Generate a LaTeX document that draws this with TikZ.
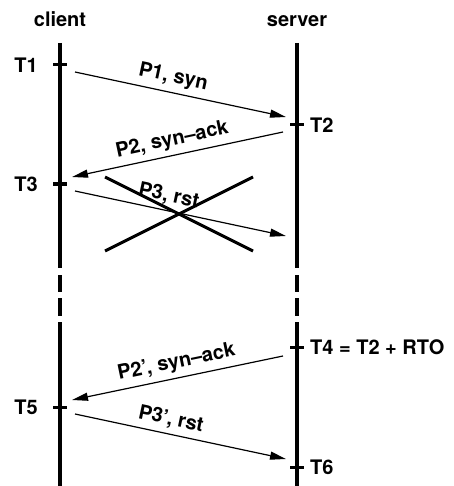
\documentclass[tikz,border=0pt]{standalone}
\usepackage{fontspec}
\setmainfont{TeX Gyre Heros}
\usetikzlibrary{arrows.meta}

\tikzset{
  timeline/.style={line width=4pt},
  timetick/.style={line width=3pt},
  msg/.style={line width=1.2pt, -{Triangle[length=16pt,width=8pt]}},
  msglbl/.style={sloped, above=2pt, inner sep=3pt},
  endlbl/.style={inner sep=0pt},
  cross/.style={line width=3pt}
}

\begin{document}
\begin{tikzpicture}[x=1pt, y=-1pt, font=\fontsize{20}{24}\selectfont\bfseries]
  \useasboundingbox (0,0) rectangle (453,486);

  % time lines, broken in the middle
  \draw[timeline] (60,43) -- (60,268) (60,275) -- (60,292) (60,298) -- (60,316) (60,322) -- (60,486);
  \draw[timeline] (297,43) -- (297,268) (297,275) -- (297,292) (297,298) -- (297,316) (297,322) -- (297,486);

  \node[anchor=base] (client) at (60,27) {client};
  \node[anchor=base] (server) at (297,27) {server};

  % time marks
  \draw[timetick] (53,65) -- (67,65);
  \draw[timetick] (290,125) -- (304,125);
  \draw[timetick] (53,184) -- (67,184);
  \draw[timetick] (290,347) -- (304,347);
  \draw[timetick] (53,407) -- (67,407);
  \draw[timetick] (290,467) -- (304,467);

  \node[endlbl, anchor=east] (t1) at (38,65) {T1};
  \node[endlbl, anchor=west] (t2) at (310,125) {T2};
  \node[endlbl, anchor=east] (t3) at (38,184) {T3};
  \node[endlbl, anchor=west] (t4) at (310,347) {T4 = T2 + RTO};
  \node[endlbl, anchor=east] (t5) at (38,407) {T5};
  \node[endlbl, anchor=west] (t6) at (310,467) {T6};

  % packets
  \coordinate (p1a) at (75,72);
  \coordinate (p1b) at (286,117);
  \coordinate (p2a) at (283,132);
  \coordinate (p2b) at (72,177);
  \coordinate (p3a) at (75,191);
  \coordinate (p3b) at (286,236);
  \coordinate (p4a) at (283,356);
  \coordinate (p4b) at (72,400);
  \coordinate (p5a) at (75,414);
  \coordinate (p5b) at (286,459);

  \draw[msg] (p1a) -- node[msglbl, pos=0.45] (p1) {P1, syn} (p1b);
  \draw[msg] (p2a) -- node[msglbl, pos=0.51] (p2) {P2, syn--ack} (p2b);
  \draw[msg] (p3a) -- node[msglbl, pos=0.43] (p3) {P3, rst} (p3b);
  \draw[msg] (p4a) -- node[msglbl, pos=0.49] (p4) {P2', syn--ack} (p4b);
  \draw[msg] (p5a) -- node[msglbl, pos=0.44] (p5) {P3', rst} (p5b);

  % lost packet
  \draw[cross] (105,177) -- (253,251);
  \draw[cross] (253,177) -- (105,251);
\end{tikzpicture}
\end{document}
